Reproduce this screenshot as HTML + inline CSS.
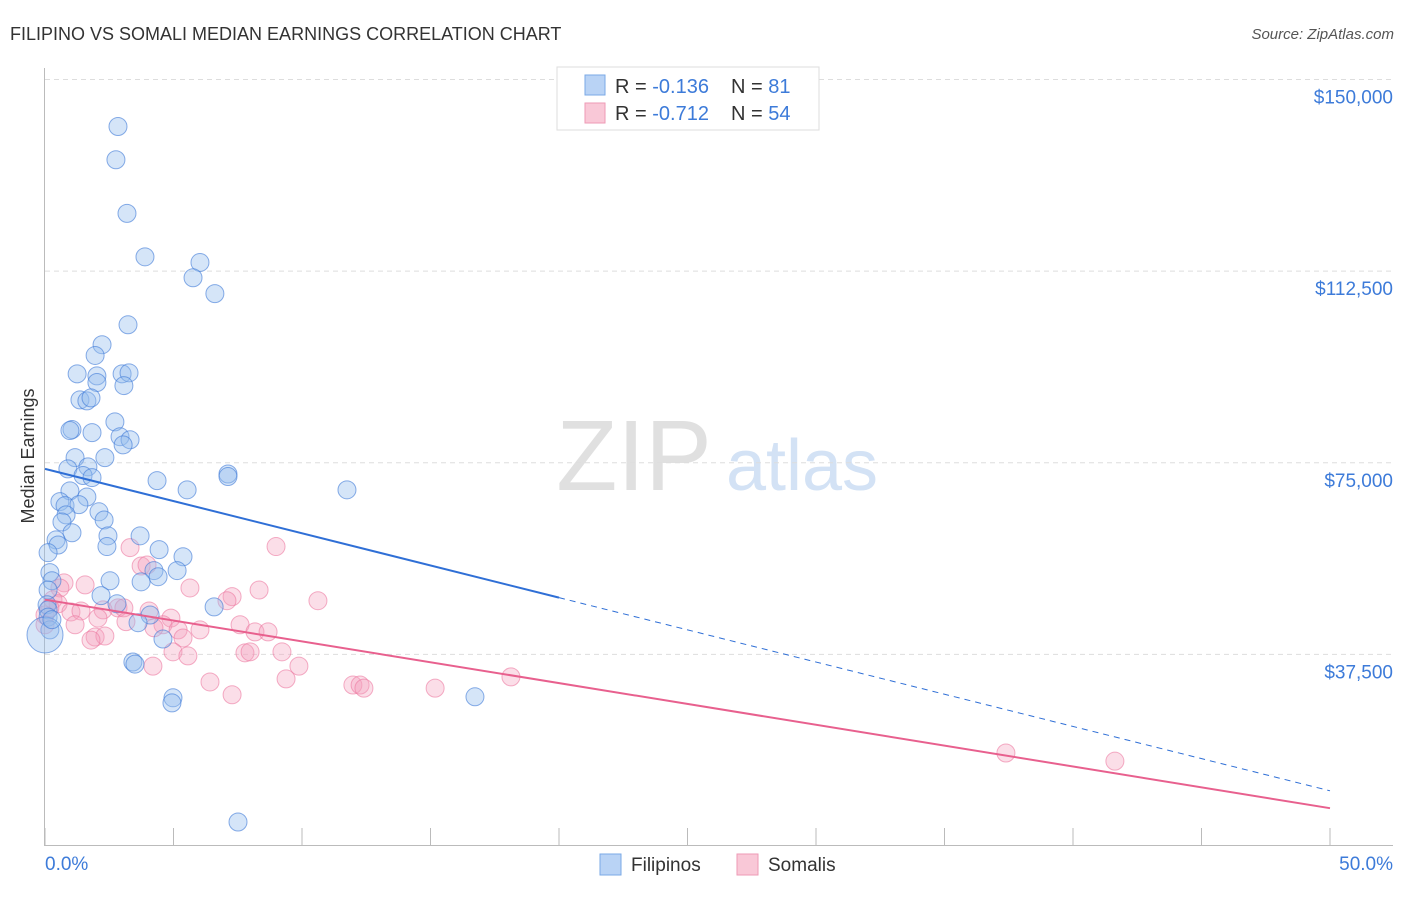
<!DOCTYPE html>
<html><head><meta charset="utf-8"><style>
body{margin:0;background:#fff;font-family:"Liberation Sans",sans-serif}
svg text{font-family:"Liberation Sans",sans-serif}
</style></head><body>
<svg id="chart" width="1406" height="892">
<text x="10" y="40" font-size="18" fill="#333">FILIPINO VS SOMALI MEDIAN EARNINGS CORRELATION CHART</text>
<text x="1394" y="39" font-size="15" fill="#555" font-style="italic" text-anchor="end">Source: ZipAtlas.com</text>
<text x="634" y="490" font-size="100" fill="#e0e0e0" font-family="Liberation Serif" text-anchor="middle">ZIP</text>
<text x="802" y="490" font-size="72" fill="#d3e2f5" text-anchor="middle">atlas</text>
<text transform="translate(34,456) rotate(-90)" font-size="18" fill="#333" text-anchor="middle">Median Earnings</text>
<g id="grid"></g><g id="axes"></g><g id="pts"></g><g id="lines"></g>
<g>
<rect x="557" y="67" width="262" height="63" fill="#fff" stroke="#ddd"/>
<rect x="585" y="75" width="20" height="20" fill="#b9d3f5" stroke="#7aa8e6"/>
<rect x="585" y="103" width="20" height="20" fill="#f9c8d7" stroke="#ee9ab5"/>
<text x="615" y="93" font-size="20" fill="#333">R = <tspan fill="#3d7bd9">-0.136</tspan></text>
<text x="731" y="93" font-size="20" fill="#333">N = <tspan fill="#3d7bd9"> 81</tspan></text>
<text x="615" y="120" font-size="20" fill="#333">R = <tspan fill="#3d7bd9">-0.712</tspan></text>
<text x="731" y="120" font-size="20" fill="#333">N = <tspan fill="#3d7bd9">54</tspan></text>
</g>
<g>
<rect x="600" y="854" width="21" height="21" fill="#b9d3f5" stroke="#7aa8e6"/>
<text x="631" y="871" font-size="19" fill="#333">Filipinos</text>
<rect x="737" y="854" width="21" height="21" fill="#f9c8d7" stroke="#ee9ab5"/>
<text x="768" y="871" font-size="19" fill="#333">Somalis</text>
</g>
</svg>
<script>
const yTicks=[37500,75000,112500,150000];
const yTickLabels=["$37,500","$75,000","$112,500","$150,000"];
const xTickLabels=["0.0%","50.0%"];
const filX=[2.84,2.76,3.19,3.89,6.03,5.76,6.61,3.23,2.22,1.95,1.25,2.02,3.00,3.27,2.02,3.07,1.36,1.63,1.79,2.72,1.05,0.97,1.83,2.92,3.31,3.04,2.33,1.17,0.89,1.67,1.48,1.83,7.12,7.12,4.36,5.53,11.75,0.97,1.63,0.58,0.78,1.32,2.10,0.82,2.30,0.66,1.05,0.43,2.45,3.70,0.51,2.41,0.12,4.44,5.37,0.19,4.24,5.14,2.53,3.74,4.40,0.27,0.12,2.18,2.80,6.58,4.09,3.62,4.59,0.08,0.12,0.12,0.19,3.42,3.50,4.98,4.94,16.73,7.51,0,0.27];
const filY=[140.8,134.3,123.8,115.3,114.2,111.2,108.1,102.0,98.1,96.0,92.4,92.0,92.4,92.6,90.7,90.1,87.3,87.1,87.7,83.0,81.5,81.3,80.9,80.1,79.5,78.5,76.0,76.0,73.8,74.2,72.5,72.1,72.8,72.3,71.5,69.7,69.7,69.5,68.3,67.4,66.6,66.8,65.4,64.8,63.8,63.4,61.3,59.9,60.7,60.7,58.9,58.6,57.4,58.0,56.6,53.5,53.9,53.9,51.9,51.7,52.7,51.9,50.1,49.0,47.4,46.8,45.2,43.7,40.5,47.2,46.2,44.8,42.3,36.0,35.6,29.0,28.0,29.2,4.7,41.3,44.3];
const somX=[3.31,8.99,0.74,3.74,3.97,5.64,8.33,7.28,7.08,10.62,1.56,0.58,0.31,0.51,1.01,1.40,2.26,2.84,3.07,4.05,4.90,4.59,4.24,5.18,6.03,5.37,7.59,8.17,8.68,0,0.19,0,2.06,1.17,3.15,1.95,2.33,1.79,4.98,5.56,7.78,7.98,9.22,9.88,4.20,6.42,7.28,9.38,11.98,12.26,12.41,15.18,18.13,37.39,41.63];
const somY=[58.4,58.6,51.5,54.8,55.0,50.5,50.1,48.8,48.0,48.0,51.1,50.5,48.2,47.4,45.8,46.0,46.2,46.6,46.6,46.0,44.6,43.3,42.7,42.3,42.3,40.7,43.3,41.9,41.9,45.2,46.6,43.3,44.6,43.3,43.9,40.9,41.1,40.3,38.0,37.2,37.8,38.0,38.0,35.2,35.2,32.1,29.6,32.7,31.5,31.5,30.9,30.9,33.1,18.2,16.6];
const filTrend=[73.8,10.8];
const somTrend=[48.2,7.4];
const NS="http://www.w3.org/2000/svg";
const X=v=>45+v/50*1285;
const Y=v=>846-v/150*766.5;
function mk(tag,attrs,parent){const e=document.createElementNS(NS,tag);for(const k in attrs)e.setAttribute(k,attrs[k]);document.getElementById(parent).appendChild(e);return e;}
yTicks.forEach((t,i)=>{
 const l=mk('line',{x1:45,x2:1393,y1:Y(t/1000),y2:Y(t/1000),stroke:'#ddd','stroke-dasharray':'5,4'},'grid');
 
 
 const tx=mk('text',{x:1393,y:Y(t/1000)+24,'font-size':19,fill:'#3d7bd9','text-anchor':'end'},'grid');
 tx.textContent=yTickLabels[i];
 
 
});
const ax=mk('line',{x1:44.5,x2:44.5,y1:68,y2:846,stroke:'#bbb'},'axes');


const bx=mk('line',{x1:44,x2:1393,y1:845.5,y2:845.5,stroke:'#bbb'},'axes');


for(let i=0;i<=10;i++){
 const t=mk('line',{x1:X(i*5),x2:X(i*5),y1:828,y2:846,stroke:'#bbb'},'axes');
 
 
}
const x0=mk('text',{x:45,y:870,'font-size':19,fill:'#3d7bd9'},'axes');x0.textContent=xTickLabels[0];


const x1=mk('text',{x:1393,y:870,'font-size':19,fill:'#3d7bd9','text-anchor':'end'},'axes');x1.textContent=xTickLabels[1];


somX.forEach((v,i)=>{
 const c=mk('circle',{cx:X(v),cy:Y(somY[i]),r:9,fill:'rgba(244,160,188,0.35)',stroke:'rgba(236,120,160,0.6)'},'pts');
 
 
});
filX.forEach((v,i)=>{
 const big=(i===79);
 const c=mk('circle',{cx:X(v),cy:Y(filY[i]),r:big?18:9,fill:'rgba(150,190,238,0.4)',stroke:'rgba(60,120,215,0.6)'},'pts');
 
 
});
const fy=x=>filTrend[0]+(filTrend[1]-filTrend[0])*x/50;
const l1=mk('line',{x1:X(0),y1:Y(fy(0)),x2:X(20),y2:Y(fy(20)),stroke:'#2f6fd6','stroke-width':2},'lines');


const l2=mk('line',{x1:X(20),y1:Y(fy(20)),x2:X(50),y2:Y(fy(50)),stroke:'#2f6fd6','stroke-width':1,'stroke-dasharray':'6,5'},'lines');


const l3=mk('line',{x1:X(0),y1:Y(somTrend[0]),x2:X(50),y2:Y(somTrend[1]),stroke:'#e8608e','stroke-width':2},'lines');


</script>
</body></html>
